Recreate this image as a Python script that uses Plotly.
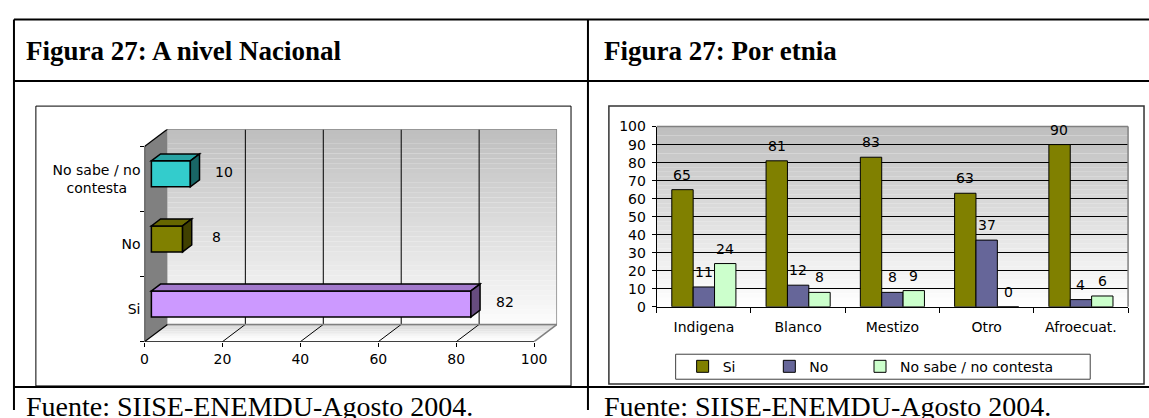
import plotly.graph_objects as go

W, H = 1149, 418

# ---------------- Data ----------------
nac_categories = ["Si", "No", "No sabe / no contesta"]
nac_tick_labels = ["Si", "No", "No sabe / no<br>contesta\u00a0\u00a0\u00a0"]
nac_values = [82, 8, 10]
nac_colors = ["#CC99FF", "#808000", "#33CCCC"]
nac_x_ticks = [0, 20, 40, 60, 80, 100]

etnia_categories = ["Indigena", "Blanco", "Mestizo", "Otro", "Afroecuat."]
etnia_si = [65, 81, 83, 63, 90]
etnia_no = [11, 12, 8, 37, 4]
etnia_ns = [24, 8, 9, 0, 6]
etnia_series_names = ["Si", "No", "No sabe / no contesta"]
etnia_colors = ["#808000", "#666699", "#CCFFCC"]
etnia_y_ticks = [0, 10, 20, 30, 40, 50, 60, 70, 80, 90, 100]

title_left = "Figura 27: A nivel Nacional"
title_right = "Figura 27: Por etnia"
source_text = "Fuente: SIISE-ENEMDU-Agosto 2004."

# ---------------- Helpers ----------------
FONT = "DejaVu Sans"
FS = 14
SERIF = "Liberation Serif"


def pxx(x):
    return x / W


def pxy(y):
    return 1 - y / H


def gray(v):
    v = int(round(v))
    return f"rgb({v},{v},{v})"


def shade(hex_color, f):
    h = hex_color.lstrip("#")
    r, g, b = (int(h[i:i + 2], 16) for i in (0, 2, 4))
    return f"rgb({int(r * f)},{int(g * f)},{int(b * f)})"


def poly(pts):
    return "M " + " L ".join(f"{x},{y}" for x, y in pts) + " Z"


shapes = []
annotations = []

# ---------------- Left chart geometry (3D look) ----------------
L_X0, L_X100 = 141, 532          # front plane pixel positions of 0 and 100
L_BOTTOM, L_TOP = 347, 144       # front plane pixel bottom / top
DEPTH_PX = (23, 18)              # 3D depth offset in pixels (right, up)
x_max = max(nac_x_ticks)
x_per_px = x_max / (L_X100 - L_X0)
n_cat = len(nac_categories)
cat_px = (L_BOTTOM - L_TOP) / n_cat
DX = DEPTH_PX[0] * x_per_px
DY = DEPTH_PX[1] / cat_px
F1, F2 = 0.30, 0.70
BAR_W = 0.4
yb, yt = -0.5, n_cat - 0.5

fig = go.Figure()

fig.add_trace(go.Bar(
    y=nac_categories, x=nac_values, orientation="h",
    base=F1 * DX, width=BAR_W, offset=-BAR_W / 2 + F1 * DY,
    marker=dict(color=nac_colors, line=dict(color="black", width=1.5)),
    xaxis="x", yaxis="y", showlegend=False, cliponaxis=False,
))

# back wall gradient
N = 40
for i in range(N):
    y0 = yb + DY + (yt - yb) * i / N
    y1 = yb + DY + (yt - yb) * (i + 1) / N
    t = (i + 0.5) / N
    shapes.append(dict(type="rect", xref="x", yref="y", x0=DX, x1=x_max + DX,
                       y0=y0, y1=y1, fillcolor=gray(252 - (252 - 190) * t),
                       line=dict(width=0), layer="below"))
# floor gradient
NF = 10
for k in range(NF):
    d0, d1 = k / NF, (k + 1) / NF
    t = (k + 0.5) / NF
    shapes.append(dict(type="path", xref="x", yref="y", layer="below",
                       path=poly([(d0 * DX, yb + d0 * DY), (x_max + d0 * DX, yb + d0 * DY),
                                  (x_max + d1 * DX, yb + d1 * DY), (d1 * DX, yb + d1 * DY)]),
                       fillcolor=gray(255 - 50 * t ** 1.5), line=dict(width=0)))
# left wall
shapes.append(dict(type="path", xref="x", yref="y", layer="below",
                   path=poly([(0, yb), (DX, yb + DY), (DX, yt + DY), (0, yt)]),
                   fillcolor="#808080", line=dict(width=0)))
# back wall grid lines + floor lines
for v in nac_x_ticks[1:-1]:
    shapes.append(dict(type="line", xref="x", yref="y", layer="below",
                       x0=v + DX, x1=v + DX, y0=yb + DY, y1=yt + DY,
                       line=dict(color="black", width=1)))
    shapes.append(dict(type="line", xref="x", yref="y", layer="below",
                       x0=v, x1=v + DX, y0=yb, y1=yb + DY,
                       line=dict(color="black", width=1)))
# gray edges
edge = dict(color="#808080", width=1.5)
for (x0, y0, x1, y1) in [
    (DX, yt + DY, x_max + DX, yt + DY),
    (x_max + DX, yb + DY, x_max + DX, yt + DY),
    (DX, yb + DY, x_max + DX, yb + DY),
    (x_max, yb, x_max + DX, yb + DY),
]:
    shapes.append(dict(type="line", xref="x", yref="y", layer="below",
                       x0=x0, x1=x1, y0=y0, y1=y1, line=edge))
# black front edges
for (x0, y0, x1, y1) in [
    (0, yb, 0, yt),
    (0, yb, x_max, yb),
    (0, yt, DX, yt + DY),
    (0, yb, DX, yb + DY),
]:
    shapes.append(dict(type="line", xref="x", yref="y", layer="below",
                       x0=x0, x1=x1, y0=y0, y1=y1, line=dict(color="black", width=1.2)))

# bar top and side faces
ex, ey = (F2 - F1) * DX, (F2 - F1) * DY
bx = F1 * DX
for i, (v, c) in enumerate(zip(nac_values, nac_colors)):
    b0 = i - BAR_W / 2 + F1 * DY
    b1 = b0 + BAR_W
    shapes.append(dict(type="path", xref="x", yref="y", layer="above",
                       path=poly([(bx, b1), (bx + v, b1), (bx + v + ex, b1 + ey), (bx + ex, b1 + ey)]),
                       fillcolor=shade(c, 0.8), line=dict(color="black", width=1.5)))
    shapes.append(dict(type="path", xref="x", yref="y", layer="above",
                       path=poly([(bx + v, b0), (bx + v, b1), (bx + v + ex, b1 + ey), (bx + v + ex, b0 + ey)]),
                       fillcolor=shade(c, 0.5), line=dict(color="black", width=1.5)))
    annotations.append(dict(xref="x", yref="y", x=bx + v, y=(b0 + b1) / 2 + 0.03,
                            text=str(v), showarrow=False, xanchor="center", yanchor="middle",
                            xshift=34, font=dict(family=FONT, size=FS, color="black")))

# ---------------- Right chart ----------------
series = [etnia_si, etnia_no, etnia_ns]
legend_ids = ["legend", "legend2", "legend3"]
for name, vals, col, lg in zip(etnia_series_names, series, etnia_colors, legend_ids):
    fig.add_trace(go.Bar(
        x=etnia_categories, y=vals, name=name, legend=lg,
        marker=dict(color=col, line=dict(color="black", width=1)),
        xaxis="x2", yaxis="y2", cliponaxis=False,
    ))

# plot area gradient
for i in range(N):
    t = (i + 0.5) / N
    shapes.append(dict(type="rect", xref="x2 domain", yref="y2 domain",
                       x0=0, x1=1, y0=i / N, y1=(i + 1) / N,
                       fillcolor=gray(255 - (255 - 190) * t), line=dict(width=0), layer="below"))
shapes.append(dict(type="line", xref="x2 domain", yref="y2 domain", x0=0, x1=1, y0=1, y1=1,
                   line=dict(color="#808080", width=1.5)))
shapes.append(dict(type="line", xref="x2 domain", yref="y2 domain", x0=1, x1=1, y0=0, y1=1,
                   line=dict(color="#808080", width=1.5)))

bar_px = (1128 - 655) / len(etnia_categories) * (1 - 0.32) / 3
for s, vals in enumerate(series):
    for cat, v in zip(etnia_categories, vals):
        annotations.append(dict(xref="x2", yref="y2", x=cat, y=v, text=str(v),
                                showarrow=False, xanchor="center", yanchor="middle",
                                xshift=(s - 1) * bar_px, yshift=15,
                                font=dict(family=FONT, size=FS, color="black")))

# legend box
shapes.append(dict(type="rect", xref="paper", yref="paper",
                   x0=pxx(674), x1=pxx(1090), y0=pxy(386), y1=pxy(360),
                   line=dict(color="#404040", width=1), fillcolor="white", layer="below"))

# ---------------- Table / frames ----------------
tline = dict(color="black", width=2)
for y in (12, 76, 394):
    shapes.append(dict(type="line", xref="paper", yref="paper",
                       x0=pxx(10), x1=1, y0=pxy(y), y1=pxy(y), line=tline))
for x in (10, 586):
    shapes.append(dict(type="line", xref="paper", yref="paper",
                       x0=pxx(x), x1=pxx(x), y0=pxy(12), y1=0, line=tline))
shapes.append(dict(type="rect", xref="paper", yref="paper",
                   x0=pxx(32), x1=pxx(569), y0=pxy(393), y1=pxy(102),
                   line=dict(color="black", width=1), layer="below"))
shapes.append(dict(type="rect", xref="paper", yref="paper",
                   x0=pxx(607), x1=pxx(1144), y0=pxy(391), y1=pxy(102),
                   line=dict(color="#333333", width=1.5), layer="below"))

for x, txt in ((20, title_left), (600, title_right)):
    annotations.append(dict(xref="paper", yref="paper", x=pxx(x), y=pxy(45),
                            text=f"<b>{txt}</b>", showarrow=False, xanchor="left", yanchor="middle",
                            font=dict(family=SERIF, size=27, color="black")))
for x in (20, 600):
    annotations.append(dict(xref="paper", yref="paper", x=pxx(x), y=pxy(414),
                            text=source_text, showarrow=False, xanchor="left", yanchor="middle",
                            font=dict(family=SERIF, size=28, color="black")))

leg_common = dict(orientation="h", y=pxy(373), yanchor="middle", xanchor="left",
                  bgcolor="rgba(0,0,0,0)", borderwidth=0, font=dict(family=FONT, size=FS))
legend_text_px = [721, 808, 899]

fig.update_layout(
    width=W, height=H, margin=dict(l=0, r=0, t=0, b=0),
    paper_bgcolor="white", plot_bgcolor="rgba(0,0,0,0)",
    barmode="group", bargap=0.32, bargroupgap=0,
    font=dict(family=FONT, size=FS, color="black"),
    xaxis=dict(domain=[pxx(L_X0), pxx(L_X100 + DEPTH_PX[0])], range=[0, x_max + DX],
               tickvals=nac_x_ticks, ticks="outside", ticklen=4, tickcolor="black",
               showgrid=False, zeroline=False, showline=False, anchor="y", fixedrange=True),
    yaxis=dict(domain=[pxy(L_BOTTOM), pxy(L_TOP - DEPTH_PX[1])], range=[yb, yt + DY],
               type="category", categoryorder="array", categoryarray=nac_categories,
               tickvals=nac_categories, ticktext=nac_tick_labels,
               ticks="outside", tickson="boundaries", ticklen=4, tickcolor="black",
               ticklabelstandoff=3,
               showgrid=False, zeroline=False, showline=False, anchor="x", fixedrange=True),
    xaxis2=dict(domain=[pxx(655), pxx(1128)], type="category", anchor="y2",
                showline=True, linecolor="black", linewidth=1,
                ticks="outside", tickson="boundaries", ticklen=5, tickcolor="black",
                ticklabelstandoff=7, showgrid=False, fixedrange=True),
    yaxis2=dict(domain=[pxy(310.7), pxy(123.3)], range=[0, 100], anchor="x2",
                tickvals=etnia_y_ticks, showline=True, linecolor="black", linewidth=1,
                ticks="outside", ticklen=4, tickcolor="black", ticklabelstandoff=3,
                showgrid=True, gridcolor="black", gridwidth=1, zeroline=False, fixedrange=True),
    legend=dict(x=pxx(legend_text_px[0] - 40), **leg_common),
    legend2=dict(x=pxx(legend_text_px[1] - 40), **leg_common),
    legend3=dict(x=pxx(legend_text_px[2] - 40), **leg_common),
    shapes=shapes, annotations=annotations,
)

fig.write_html(
    "out.html",
    config={"displayModeBar": False, "staticPlot": True},
    post_script="document.body.style.margin='0';document.body.style.padding='0';"
                "document.body.style.overflow='hidden';",
)
